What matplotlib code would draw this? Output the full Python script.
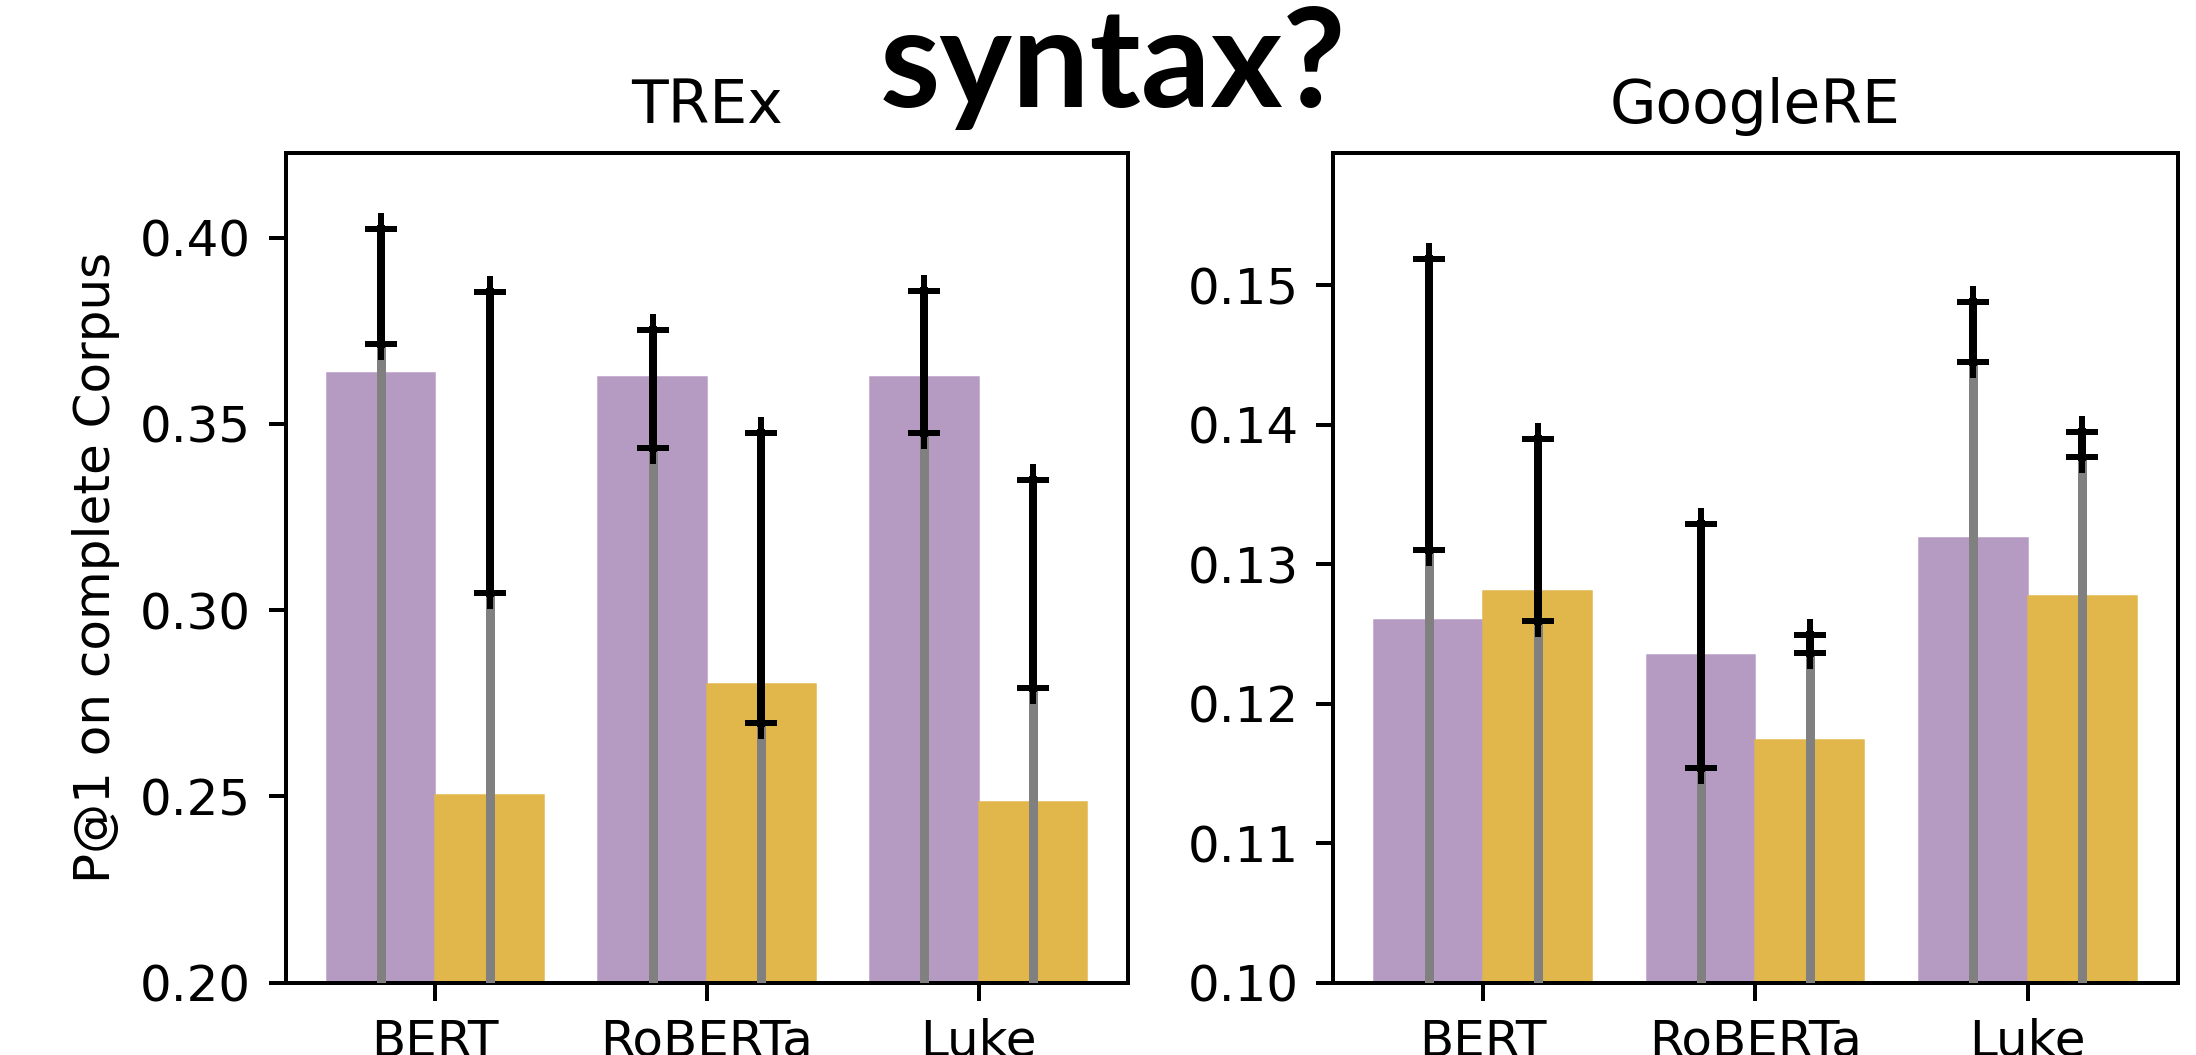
import numpy as np
import matplotlib
matplotlib.use("Agg")
import matplotlib.pyplot as plt

models = ["BERT", "RoBERTa", "Luke"]

# TREx
trex_purple = [0.3636, 0.3626, 0.3627]
trex_gold = [0.2505, 0.2803, 0.2484]
trex_purple_lo = [0.3714, 0.3435, 0.3476]
trex_purple_hi = [0.4023, 0.3753, 0.3856]
trex_gold_lo = [0.3046, 0.2698, 0.2792]
trex_gold_hi = [0.3853, 0.3476, 0.3349]

# GoogleRE
gre_purple = [0.1260, 0.1235, 0.1319]
gre_gold = [0.1281, 0.1174, 0.1277]
gre_purple_lo = [0.1310, 0.1154, 0.1445]
gre_purple_hi = [0.1519, 0.1329, 0.1488]
gre_gold_lo = [0.1259, 0.1236, 0.1377]
gre_gold_hi = [0.1390, 0.1249, 0.1395]

purple = "#b59bc2"
gold = "#e1b74b"


def draw(ax, vals_p, vals_g, lo_p, hi_p, lo_g, hi_g, title, ylim, yticks):
    x = np.arange(len(models))
    w = 0.4
    ax.bar(x - w / 2, vals_p, w, color=purple, edgecolor=purple, linewidth=0.3)
    ax.bar(x + w / 2, vals_g, w, color=gold, edgecolor=gold, linewidth=0.3)
    for off, lo, hi in [(-w / 2, lo_p, hi_p), (w / 2, lo_g, hi_g)]:
        xs = x + off
        ax.vlines(xs, 0, lo, color="#808080", lw=1.8, zorder=3)
        for xi, a, b in zip(xs, lo, hi):
            ax.plot([xi, xi], [a, b], color="black", lw=1.6, marker="+",
                    ms=6.5, mew=1.2, zorder=4)
    ax.set_xticks(x)
    ax.set_xticklabels(models)
    ax.set_xlim(-0.55, 2.55)
    ax.set_ylim(*ylim)
    ax.set_yticks(yticks)
    ax.set_title(title)


fig = plt.figure(figsize=(2196 / 360, 1055 / 360), dpi=360)
ax1 = fig.add_axes([0.1302, 0.0685, 0.3835, 0.7868])
ax2 = fig.add_axes([0.6072, 0.0685, 0.3844, 0.7868])

draw(ax1, trex_purple, trex_gold, trex_purple_lo, trex_purple_hi,
     trex_gold_lo, trex_gold_hi, "TREx", (0.20, 0.4228),
     [0.20, 0.25, 0.30, 0.35, 0.40])
ax1.set_yticklabels(["0.20", "0.25", "0.30", "0.35", "0.40"])
ax1.set_ylabel("P@1 on complete Corpus")

draw(ax2, gre_purple, gre_gold, gre_purple_lo, gre_purple_hi,
     gre_gold_lo, gre_gold_hi, "GoogleRE", (0.10, 0.1595),
     [0.10, 0.11, 0.12, 0.13, 0.14, 0.15])
ax2.set_yticklabels(["0.10", "0.11", "0.12", "0.13", "0.14", "0.15"])

fig.text(0.5068, 0.8986, "syntax?", ha="center", va="baseline",
         fontsize=27.5, fontweight="bold", family="Lato")

fig.savefig("out.png", dpi=360)
